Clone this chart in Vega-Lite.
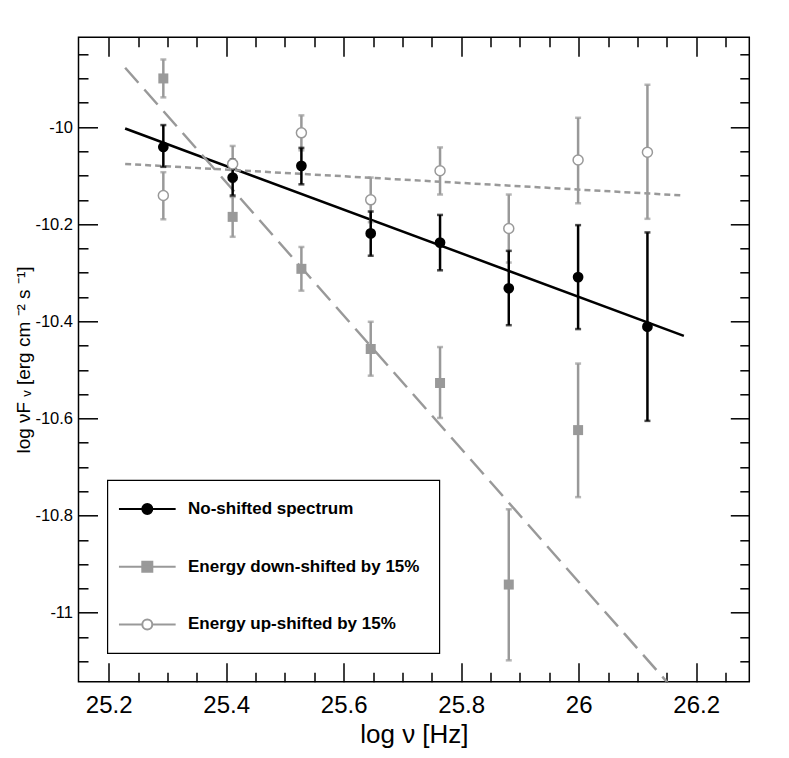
{
  "$schema": "https://vega.github.io/schema/vega-lite/v6.json",
  "width": 670.8,
  "height": 644.4,
  "autosize": "none",
  "padding": {"left": 78.5, "top": 37.3, "right": 39.7, "bottom": 76.3},
  "background": "white",
  "config": {
    "view": {"stroke": "black", "strokeWidth": 1.5},
    "axis": {
      "grid": false,
      "domain": false,
      "tickColor": "black",
      "tickWidth": 1.5,
      "labelFont": "Liberation Sans",
      "labelColor": "black",
      "titleFont": "Liberation Sans",
      "titleColor": "black",
      "labelOverlap": false,
      "labelFlush": false
    },
    "legend": {"strokeWidth": 1.2}
  },
  "datasets": {
    "points": [
      {"series": "No-shifted spectrum", "nu": 25.293, "flux": -10.041, "lo": -10.082, "hi": -9.996},
      {"series": "No-shifted spectrum", "nu": 25.411, "flux": -10.104, "lo": -10.141, "hi": -10.067},
      {"series": "No-shifted spectrum", "nu": 25.528, "flux": -10.080, "lo": -10.118, "hi": -10.043},
      {"series": "No-shifted spectrum", "nu": 25.646, "flux": -10.219, "lo": -10.265, "hi": -10.174},
      {"series": "No-shifted spectrum", "nu": 25.764, "flux": -10.238, "lo": -10.295, "hi": -10.181},
      {"series": "No-shifted spectrum", "nu": 25.881, "flux": -10.332, "lo": -10.408, "hi": -10.255},
      {"series": "No-shifted spectrum", "nu": 25.999, "flux": -10.309, "lo": -10.416, "hi": -10.202},
      {"series": "No-shifted spectrum", "nu": 26.117, "flux": -10.411, "lo": -10.605, "hi": -10.217},
      {"series": "Energy down-shifted by 15%", "nu": 25.293, "flux": -9.900, "lo": -9.939, "hi": -9.861},
      {"series": "Energy down-shifted by 15%", "nu": 25.411, "flux": -10.185, "lo": -10.226, "hi": -10.144},
      {"series": "Energy down-shifted by 15%", "nu": 25.528, "flux": -10.292, "lo": -10.337, "hi": -10.247},
      {"series": "Energy down-shifted by 15%", "nu": 25.646, "flux": -10.457, "lo": -10.512, "hi": -10.401},
      {"series": "Energy down-shifted by 15%", "nu": 25.764, "flux": -10.527, "lo": -10.599, "hi": -10.453},
      {"series": "Energy down-shifted by 15%", "nu": 25.881, "flux": -10.942, "lo": -11.098, "hi": -10.787},
      {"series": "Energy down-shifted by 15%", "nu": 25.999, "flux": -10.624, "lo": -10.762, "hi": -10.487},
      {"series": "Energy up-shifted by 15%", "nu": 25.293, "flux": -10.141, "lo": -10.190, "hi": -10.093},
      {"series": "Energy up-shifted by 15%", "nu": 25.411, "flux": -10.076, "lo": -10.113, "hi": -10.039},
      {"series": "Energy up-shifted by 15%", "nu": 25.528, "flux": -10.012, "lo": -10.048, "hi": -9.976},
      {"series": "Energy up-shifted by 15%", "nu": 25.646, "flux": -10.150, "lo": -10.196, "hi": -10.104},
      {"series": "Energy up-shifted by 15%", "nu": 25.764, "flux": -10.090, "lo": -10.139, "hi": -10.042},
      {"series": "Energy up-shifted by 15%", "nu": 25.881, "flux": -10.209, "lo": -10.279, "hi": -10.139},
      {"series": "Energy up-shifted by 15%", "nu": 25.999, "flux": -10.068, "lo": -10.157, "hi": -9.981},
      {"series": "Energy up-shifted by 15%", "nu": 26.117, "flux": -10.052, "lo": -10.189, "hi": -9.913}
    ],
    "fits": [
      {"series": "No-shifted spectrum", "nu": 25.228, "flux": -10.003},
      {"series": "No-shifted spectrum", "nu": 26.179, "flux": -10.430},
      {"series": "Energy down-shifted by 15%", "nu": 25.228, "flux": -9.878},
      {"series": "Energy down-shifted by 15%", "nu": 26.179, "flux": -11.182},
      {"series": "Energy up-shifted by 15%", "nu": 25.228, "flux": -10.076},
      {"series": "Energy up-shifted by 15%", "nu": 26.179, "flux": -10.141}
    ]
  },
  "resolve": {"axis": {"x": "independent", "y": "independent"}},
  "layer": [
    {
      "data": {"name": "fits"},
      "transform": [{"filter": "datum.series == 'No-shifted spectrum'"}],
      "mark": {"type": "line", "color": "black", "strokeWidth": 2.5, "clip": true},
      "encoding": {
        "x": {
          "field": "nu", "type": "quantitative",
          "scale": {"domain": [25.1486, 26.2904], "nice": false, "zero": false},
          "axis": {
            "orient": "bottom",
            "values": [25.2, 25.4, 25.6, 25.8, 26, 26.2],
            "ticks": true,
            "tickSize": -19,
            "labelExpr": "toString(datum.value)",
            "labelFontSize": 24,
            "labelPadding": 31,
            "title": "log ν [Hz]",
            "titleFontSize": 26,
            "titleFontWeight": "normal",
            "titlePadding": 4
          }
        },
        "y": {
          "field": "flux", "type": "quantitative",
          "scale": {"domain": [-11.142, -9.8153], "nice": false, "zero": false},
          "axis": {
            "orient": "left",
            "values": [-10, -10.2, -10.4, -10.6, -10.8, -11],
            "ticks": true,
            "tickSize": -19,
            "labelExpr": "'-' + toString(abs(datum.value))",
            "labelFontSize": 16.5,
            "labelPadding": 25,
            "title": "log νF ᵥ [erg cm ⁻² s ⁻¹]",
            "titleFontSize": 19,
            "titleFontWeight": "normal",
            "titlePadding": 1
          }
        }
      }
    },
    {
      "data": {"name": "fits"},
      "transform": [{"filter": "datum.series == 'Energy up-shifted by 15%'"}],
      "mark": {"type": "line", "color": "#999999", "strokeWidth": 2.5, "strokeDash": [6, 4], "clip": true},
      "encoding": {
        "x": {
          "field": "nu", "type": "quantitative",
          "scale": {"domain": [25.1486, 26.2904], "nice": false, "zero": false},
          "axis": {"orient": "top", "values": [25.2, 25.4, 25.6, 25.8, 26, 26.2], "tickSize": -19, "labels": false, "title": null}
        },
        "y": {
          "field": "flux", "type": "quantitative",
          "scale": {"domain": [-11.142, -9.8153], "nice": false, "zero": false},
          "axis": {"orient": "right", "values": [-10, -10.2, -10.4, -10.6, -10.8, -11], "tickSize": -19, "labels": false, "title": null}
        }
      }
    },
    {
      "data": {"name": "fits"},
      "transform": [{"filter": "datum.series == 'Energy down-shifted by 15%'"}],
      "mark": {"type": "line", "color": "#999999", "strokeWidth": 2.5, "strokeDash": [20, 9], "clip": true},
      "encoding": {
        "x": {
          "field": "nu", "type": "quantitative",
          "scale": {"domain": [25.1486, 26.2904], "nice": false, "zero": false},
          "axis": {"orient": "bottom", "values": [25.25, 25.3, 25.35, 25.45, 25.5, 25.55, 25.65, 25.7, 25.75, 25.85, 25.9, 25.95, 26.05, 26.1, 26.15, 26.25], "tickSize": -9.5, "labels": false, "title": null}
        },
        "y": {
          "field": "flux", "type": "quantitative",
          "scale": {"domain": [-11.142, -9.8153], "nice": false, "zero": false},
          "axis": {"orient": "left", "values": [-9.85, -9.9, -9.95, -10.05, -10.1, -10.15, -10.25, -10.3, -10.35, -10.45, -10.5, -10.55, -10.65, -10.7, -10.75, -10.85, -10.9, -10.95, -11.05, -11.1], "tickSize": -9.5, "labels": false, "title": null}
        }
      }
    },
    {
      "data": {"name": "points"},
      "transform": [{"filter": "datum.series != 'No-shifted spectrum'"}],
      "mark": {"type": "errorbar", "ticks": true, "size": 6, "thickness": 2.5, "color": "#999999"},
      "encoding": {
        "x": {"field": "nu", "type": "quantitative", "axis": null},
        "y": {"field": "lo", "type": "quantitative", "axis": null},
        "y2": {"field": "hi"}
      }
    },
    {
      "data": {"name": "points"},
      "transform": [{"filter": "datum.series == 'No-shifted spectrum'"}],
      "mark": {"type": "errorbar", "ticks": true, "size": 6, "thickness": 2.5, "color": "black"},
      "encoding": {
        "x": {"field": "nu", "type": "quantitative", "axis": null},
        "y": {"field": "lo", "type": "quantitative", "axis": null},
        "y2": {"field": "hi"}
      }
    },
    {
      "data": {"name": "points"},
      "transform": [{"filter": "datum.series == 'Energy down-shifted by 15%'"}],
      "mark": {"type": "point", "shape": "square", "filled": true, "color": "#999999", "size": 100, "opacity": 1},
      "encoding": {
        "x": {
          "field": "nu", "type": "quantitative",
          "scale": {"domain": [25.1486, 26.2904], "nice": false, "zero": false},
          "axis": {"orient": "top", "values": [25.25, 25.3, 25.35, 25.45, 25.5, 25.55, 25.65, 25.7, 25.75, 25.85, 25.9, 25.95, 26.05, 26.1, 26.15, 26.25], "tickSize": -9.5, "labels": false, "title": null}
        },
        "y": {
          "field": "flux", "type": "quantitative",
          "scale": {"domain": [-11.142, -9.8153], "nice": false, "zero": false},
          "axis": {"orient": "right", "values": [-9.85, -9.9, -9.95, -10.05, -10.1, -10.15, -10.25, -10.3, -10.35, -10.45, -10.5, -10.55, -10.65, -10.7, -10.75, -10.85, -10.9, -10.95, -11.05, -11.1], "tickSize": -9.5, "labels": false, "title": null}
        }
      }
    },
    {
      "data": {"name": "points"},
      "transform": [{"filter": "datum.series == 'Energy up-shifted by 15%'"}],
      "mark": {"type": "point", "shape": "circle", "filled": true, "fill": "white", "stroke": "#999999", "strokeWidth": 1.5, "size": 100, "opacity": 1},
      "encoding": {
        "x": {"field": "nu", "type": "quantitative", "axis": null},
        "y": {"field": "flux", "type": "quantitative", "axis": null}
      }
    },
    {
      "data": {"name": "points"},
      "transform": [{"filter": "datum.series == 'No-shifted spectrum'"}],
      "mark": {"type": "point", "shape": "circle", "filled": true, "color": "black", "size": 115, "opacity": 1},
      "encoding": {
        "x": {"field": "nu", "type": "quantitative", "axis": null},
        "y": {"field": "flux", "type": "quantitative", "axis": null}
      }
    },
    {
      "data": {"name": "points"},
      "mark": {"type": "point", "filled": true, "opacity": 0, "strokeWidth": 2},
      "encoding": {
        "x": {"field": "nu", "type": "quantitative", "axis": null},
        "y": {"field": "flux", "type": "quantitative", "axis": null},
        "shape": {
          "field": "series", "type": "nominal",
          "scale": {
            "domain": ["No-shifted spectrum", "Energy down-shifted by 15%", "Energy up-shifted by 15%"],
            "range": [
              "M-3.15,0L3.15,0M0.556,0A0.556,0.556,0,1,1,-0.556,0A0.556,0.556,0,1,1,0.556,0Z",
              "M-3.15,0L3.15,0M-0.556,-0.556L0.556,-0.556L0.556,0.556L-0.556,0.556Z",
              "M-3.15,0L-0.556,0M0.556,0L3.15,0M0.556,0A0.556,0.556,0,1,1,-0.556,0A0.556,0.556,0,1,1,0.556,0Z"
            ]
          },
          "legend": {
            "title": null, "orient": "none", "legendX": 28.8, "legendY": 442.7,
            "symbolSize": 324, "symbolStrokeWidth": 2, "symbolOpacity": 1, "symbolOffset": 11,
            "labelFont": "Liberation Sans", "labelFontSize": 17, "labelFontWeight": "bold", "labelColor": "black",
            "labelLimit": 400, "labelOffset": 30.7, "padding": 19, "rowPadding": 37.7,
            "strokeColor": "black", "fillColor": "white"
          }
        },
        "fill": {
          "field": "series", "type": "nominal",
          "scale": {
            "domain": ["No-shifted spectrum", "Energy down-shifted by 15%", "Energy up-shifted by 15%"],
            "range": ["black", "#999999", "white"]
          },
          "legend": {
            "title": null, "orient": "none", "legendX": 28.8, "legendY": 442.7,
            "symbolSize": 324, "symbolStrokeWidth": 2, "symbolOpacity": 1, "symbolOffset": 11,
            "labelFont": "Liberation Sans", "labelFontSize": 17, "labelFontWeight": "bold", "labelColor": "black",
            "labelLimit": 400, "labelOffset": 30.7, "padding": 19, "rowPadding": 37.7,
            "strokeColor": "black", "fillColor": "white"
          }
        },
        "stroke": {
          "field": "series", "type": "nominal",
          "scale": {
            "domain": ["No-shifted spectrum", "Energy down-shifted by 15%", "Energy up-shifted by 15%"],
            "range": ["black", "#999999", "#999999"]
          },
          "legend": {
            "title": null, "orient": "none", "legendX": 28.8, "legendY": 442.7,
            "symbolSize": 324, "symbolStrokeWidth": 2, "symbolOpacity": 1, "symbolOffset": 11,
            "labelFont": "Liberation Sans", "labelFontSize": 17, "labelFontWeight": "bold", "labelColor": "black",
            "labelLimit": 400, "labelOffset": 30.7, "padding": 19, "rowPadding": 37.7,
            "strokeColor": "black", "fillColor": "white"
          }
        }
      }
    }
  ]
}
